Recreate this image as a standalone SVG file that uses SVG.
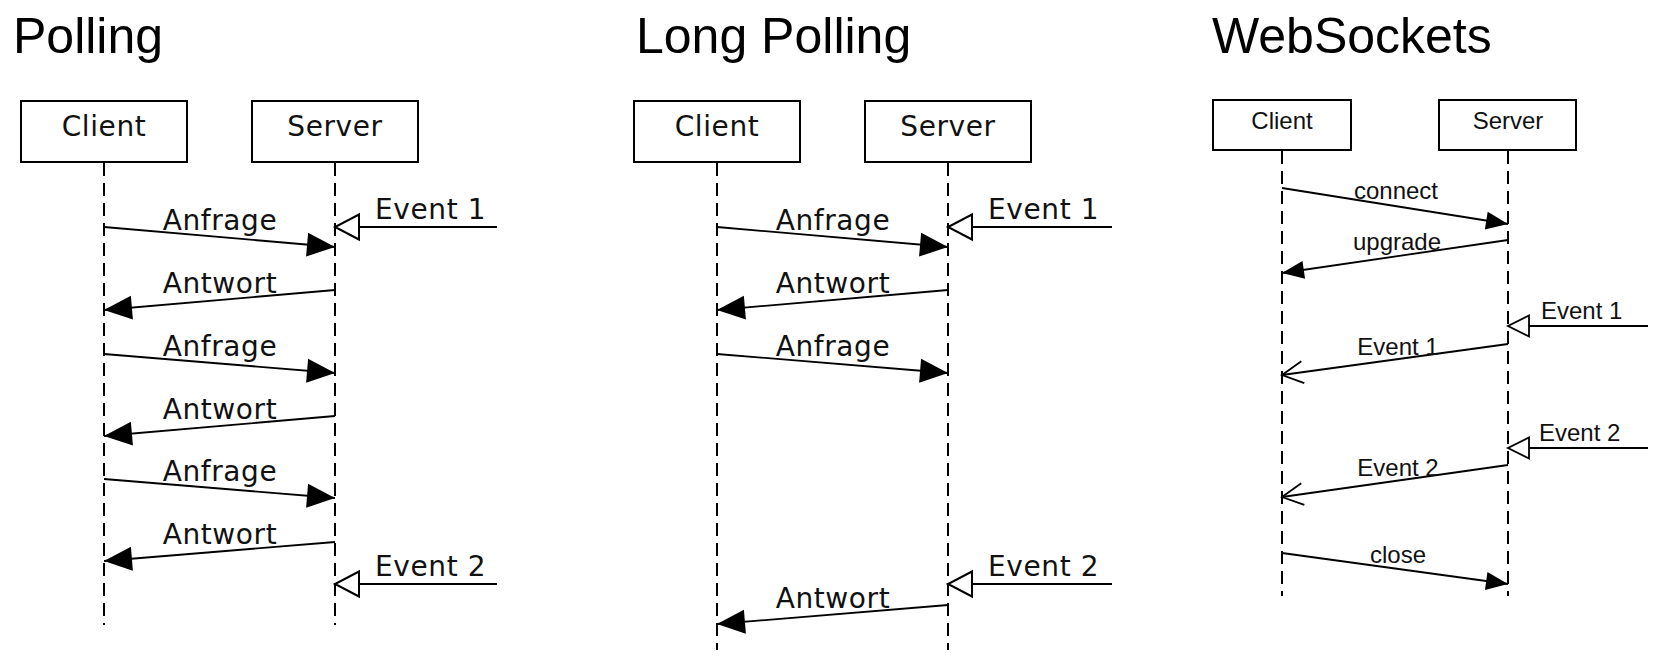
<svg xmlns="http://www.w3.org/2000/svg" width="1668" height="670" viewBox="0 0 1668 670">
<defs>
<style>
.title{font-family:"Liberation Sans",Arial,sans-serif;font-size:50px;fill:#000}
.box{fill:#fff;stroke:#000;stroke-width:2}
.lbl{font-family:"DejaVu Sans",sans-serif;font-size:28px;fill:#111;letter-spacing:0.6px}
.wl{font-family:"Liberation Sans",Arial,sans-serif;font-size:24px;fill:#111}
.life{stroke:#000;stroke-width:2;stroke-dasharray:13 7;fill:none}
.msg{stroke:#000;stroke-width:1.8;fill:none}
.m1{marker-end:url(#fill)}
.m2{marker-end:url(#fillS)}
.ev{marker-end:url(#open)}
.evS{marker-end:url(#openS)}
.va{marker-end:url(#vee)}
</style>
<marker id="fill" markerUnits="userSpaceOnUse" markerWidth="30" markerHeight="26" refX="28" refY="12" orient="auto" overflow="visible"><path d="M0,0 L28,12 L0,24 Z" fill="#000"/></marker>
<marker id="fillS" markerUnits="userSpaceOnUse" markerWidth="24" markerHeight="20" refX="22" refY="9" orient="auto" overflow="visible"><path d="M0,0 L22,9 L0,18 Z" fill="#000"/></marker>
<marker id="open" markerUnits="userSpaceOnUse" markerWidth="26" markerHeight="28" refX="24" refY="12.5" orient="auto" overflow="visible"><path d="M0,0 L24,12.5 L0,25 Z" fill="#fff" stroke="#000" stroke-width="2"/></marker>
<marker id="openS" markerUnits="userSpaceOnUse" markerWidth="24" markerHeight="24" refX="21" refY="10.5" orient="auto" overflow="visible"><path d="M0,0 L21,10.5 L0,21 Z" fill="#fff" stroke="#000" stroke-width="1.8"/></marker>
<marker id="vee" markerUnits="userSpaceOnUse" markerWidth="24" markerHeight="26" refX="21" refY="11" orient="auto" overflow="visible"><path d="M0,0 L21,11 L0,22" fill="none" stroke="#000" stroke-width="1.8"/></marker>
</defs>

<g id="titles">
<text class="title" x="13" y="53">Polling</text>
<text class="title" x="636" y="53">Long Polling</text>
<text class="title" x="1212" y="53">WebSockets</text>
</g>

<g id="p-client"><rect class="box" x="21" y="101" width="166" height="61"/><text class="lbl" x="104" y="136" text-anchor="middle">Client</text></g>
<g id="p-server"><rect class="box" x="252" y="101" width="166" height="61"/><text class="lbl" x="335" y="136" text-anchor="middle">Server</text></g>
<g id="lp-client"><rect class="box" x="634" y="101" width="166" height="61"/><text class="lbl" x="717" y="136" text-anchor="middle">Client</text></g>
<g id="lp-server"><rect class="box" x="865" y="101" width="166" height="61"/><text class="lbl" x="948" y="136" text-anchor="middle">Server</text></g>
<g id="ws-client"><rect class="box" x="1213" y="100" width="138" height="50"/><text class="wl" x="1282" y="129" text-anchor="middle">Client</text></g>
<g id="ws-server"><rect class="box" x="1439" y="100" width="137" height="50"/><text class="wl" x="1508" y="129" text-anchor="middle">Server</text></g>

<g id="connectors">
<line class="life" x1="104" y1="163" x2="104" y2="625"/>
<line class="life" x1="335" y1="163" x2="335" y2="625"/>
<line class="life" x1="717" y1="163" x2="717" y2="650"/>
<line class="life" x1="948" y1="163" x2="948" y2="650"/>
<line class="life" x1="1282" y1="151" x2="1282" y2="596"/>
<line class="life" x1="1508" y1="151" x2="1508" y2="596"/>

<!-- Polling -->
<line class="msg m1" x1="104" y1="227" x2="335" y2="247"/>
<line class="msg m1" x1="335" y1="290" x2="104" y2="310"/>
<line class="msg m1" x1="104" y1="354" x2="335" y2="373"/>
<line class="msg m1" x1="335" y1="416" x2="104" y2="436"/>
<line class="msg m1" x1="104" y1="479" x2="335" y2="498"/>
<line class="msg m1" x1="335" y1="542" x2="104" y2="561"/>
<line class="msg ev" x1="497" y1="227" x2="335" y2="227"/>
<line class="msg ev" x1="497" y1="584" x2="335" y2="584"/>

<!-- Long Polling -->
<line class="msg m1" x1="717" y1="227" x2="948" y2="247"/>
<line class="msg m1" x1="948" y1="290" x2="717" y2="310"/>
<line class="msg m1" x1="717" y1="354" x2="948" y2="373"/>
<line class="msg ev" x1="1112" y1="227" x2="948" y2="227"/>
<line class="msg ev" x1="1112" y1="584" x2="948" y2="584"/>
<line class="msg m1" x1="948" y1="605" x2="717" y2="624"/>

<!-- WebSockets -->
<line class="msg m2" x1="1282" y1="188" x2="1508" y2="224"/>
<line class="msg m2" x1="1508" y1="240" x2="1282" y2="273"/>
<line class="msg evS" x1="1648" y1="326" x2="1508" y2="326"/>
<line class="msg va" x1="1508" y1="344" x2="1282" y2="375"/>
<line class="msg evS" x1="1648" y1="448" x2="1508" y2="448"/>
<line class="msg va" x1="1508" y1="465" x2="1282" y2="497"/>
<line class="msg m2" x1="1282" y1="553" x2="1508" y2="584"/>
</g>

<g id="labels">
<text class="lbl" x="220" y="230" text-anchor="middle">Anfrage</text>
<text class="lbl" x="220" y="293" text-anchor="middle">Antwort</text>
<text class="lbl" x="220" y="356" text-anchor="middle">Anfrage</text>
<text class="lbl" x="220" y="419" text-anchor="middle">Antwort</text>
<text class="lbl" x="220" y="481" text-anchor="middle">Anfrage</text>
<text class="lbl" x="220" y="544" text-anchor="middle">Antwort</text>
<text class="lbl" x="375" y="219">Event 1</text>
<text class="lbl" x="375" y="576">Event 2</text>

<text class="lbl" x="833" y="230" text-anchor="middle">Anfrage</text>
<text class="lbl" x="833" y="293" text-anchor="middle">Antwort</text>
<text class="lbl" x="833" y="356" text-anchor="middle">Anfrage</text>
<text class="lbl" x="988" y="219">Event 1</text>
<text class="lbl" x="988" y="576">Event 2</text>
<text class="lbl" x="833" y="608" text-anchor="middle">Antwort</text>

<text class="wl" x="1396" y="199" text-anchor="middle">connect</text>
<text class="wl" x="1397" y="250" text-anchor="middle">upgrade</text>
<text class="wl" x="1541" y="319">Event 1</text>
<text class="wl" x="1398" y="355" text-anchor="middle">Event 1</text>
<text class="wl" x="1539" y="441">Event 2</text>
<text class="wl" x="1398" y="476" text-anchor="middle">Event 2</text>
<text class="wl" x="1398" y="563" text-anchor="middle">close</text>
</g>
</svg>
